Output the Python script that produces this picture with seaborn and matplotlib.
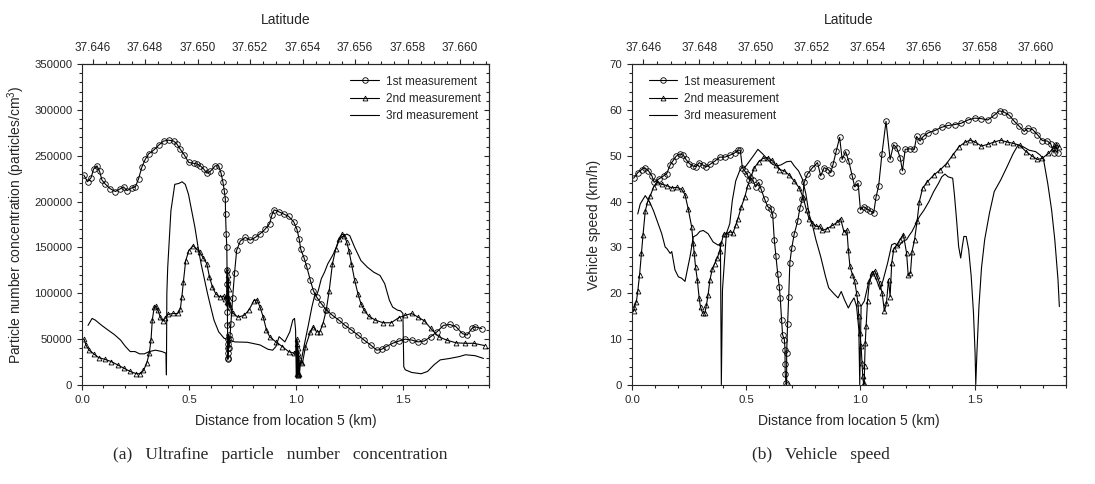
import matplotlib
matplotlib.use("Agg")
import matplotlib.pyplot as plt
import seaborn as sns
from matplotlib.ticker import MultipleLocator, FormatStrFormatter

# ---- (a) particle number concentration, distance in km ----
pn1_d = [0.008, 0.026, 0.042, 0.054, 0.07, 0.082, 0.093, 0.109, 0.132, 0.156, 0.179, 0.194, 0.21, 0.233,
         0.249, 0.264, 0.28, 0.295, 0.311, 0.334, 0.358, 0.381, 0.404, 0.428, 0.443, 0.459, 0.477, 0.498,
         0.521, 0.537, 0.552, 0.568, 0.583, 0.599, 0.622, 0.638, 0.649, 0.658, 0.664, 0.669, 0.67, 0.673,
         0.676, 0.677, 0.678, 0.678, 0.679, 0.679, 0.68, 0.68, 0.681, 0.681, 0.682, 0.683, 0.684, 0.686,
         0.69, 0.695, 0.703, 0.712, 0.722, 0.739, 0.762, 0.785, 0.809, 0.832, 0.855, 0.876, 0.886, 0.897,
         0.918, 0.941, 0.964, 0.988, 1.003, 1.014, 1.021, 1.036, 1.048, 1.066, 1.08, 1.095, 1.117, 1.14,
         1.169, 1.199, 1.228, 1.258, 1.288, 1.317, 1.347, 1.376, 1.399, 1.42, 1.45, 1.48, 1.509, 1.539,
         1.569, 1.598, 1.628, 1.657, 1.687, 1.717, 1.746, 1.776, 1.798, 1.82, 1.835, 1.866]
pn1 = [229000, 221700, 226000, 235500, 239000, 233000, 223500, 219000, 214000, 211000, 214000, 216000,
       212000, 215000, 216000, 225000, 238000, 246000, 252000, 256000, 261600, 266000, 267000, 266000,
       262700, 257000, 251000, 242700, 241700, 241000, 239000, 235500, 231000, 233000, 239000, 239000,
       231000, 221000, 212000, 203000, 186500, 165000, 150000, 125000, 110000, 95000, 80000, 65000, 50000,
       40000, 30000, 28000, 45000, 35000, 55000, 40000, 50000, 67000, 95000, 122000, 147000, 157000, 161000,
       158000, 161000, 165000, 170000, 176000, 185000, 191000, 189000, 186500, 184000, 178000, 170000,
       159000, 148000, 139000, 130000, 114000, 103000, 96000, 88800, 82000, 76000, 70800, 65000, 60000,
       54500, 49000, 43700, 38000, 39000, 41900, 45500, 48000, 50000, 49000, 47000, 48000, 52700, 58000,
       65000, 66000, 63500, 56000, 54500, 61700, 63500, 61500]

pn2_d = [0.01, 0.018, 0.033, 0.055, 0.077, 0.107, 0.136, 0.166, 0.195, 0.225, 0.254, 0.272, 0.287, 0.302,
         0.314, 0.322, 0.328, 0.337, 0.346, 0.355, 0.365, 0.376, 0.388, 0.402, 0.425, 0.447, 0.459, 0.466,
         0.473, 0.484, 0.499, 0.518, 0.536, 0.55, 0.565, 0.583, 0.595, 0.609, 0.624, 0.642, 0.661, 0.669,
         0.676, 0.678, 0.679, 0.68, 0.681, 0.682, 0.683, 0.684, 0.686, 0.691, 0.706, 0.728, 0.757, 0.78,
         0.802, 0.817, 0.831, 0.846, 0.861, 0.876, 0.905, 0.935, 0.964, 0.991, 1.0, 1.003, 1.004, 1.005,
         1.006, 1.007, 1.008, 1.009, 1.01, 1.012, 1.015, 1.02, 1.029, 1.043, 1.066, 1.08, 1.095, 1.11,
         1.125, 1.14, 1.154, 1.169, 1.184, 1.199, 1.214, 1.225, 1.236, 1.246, 1.258, 1.273, 1.288, 1.302,
         1.317, 1.339, 1.369, 1.406, 1.443, 1.48, 1.509, 1.539, 1.569, 1.598, 1.628, 1.665, 1.702, 1.746,
         1.79, 1.828, 1.88]
pn2 = [49800, 43700, 38000, 34000, 30000, 28000, 25600, 22000, 18400, 14800, 12300, 12300, 15900, 23800,
       34700, 49000, 70800, 85000, 86000, 81600, 74000, 70000, 72600, 77000, 78000, 78000, 83000, 96000,
       112000, 135700, 146600, 152000, 148000, 144800, 139000, 132000, 117700, 106900, 99600, 96000, 97000,
       94000, 97000, 125000, 90000, 120000, 92000, 115000, 89000, 105000, 88000, 85000, 78000, 74000, 76000,
       82000, 92000, 93000, 85000, 74000, 60000, 52700, 47000, 42000, 36500, 34700, 36000, 50000, 12000,
       45000, 11000, 40000, 13000, 35000, 11000, 30000, 12000, 25000, 23800, 41900, 58000, 63500, 58000,
       58000, 67000, 81600, 103000, 132000, 148000, 159000, 164600, 162800, 155600, 146600, 132000, 114000,
       99600, 88800, 81600, 75000, 70800, 67900, 67900, 73600, 76000, 78000, 74000, 70000, 61700, 52700,
       49000, 46000, 45500, 45500, 43000]

pn3_d = [0.028, 0.047, 0.062, 0.092, 0.121, 0.151, 0.18, 0.203, 0.225, 0.247, 0.269, 0.291, 0.314, 0.343,
         0.373, 0.392, 0.394, 0.396, 0.4, 0.415, 0.433, 0.452, 0.467, 0.482, 0.497, 0.512, 0.527, 0.542,
         0.556, 0.571, 0.586, 0.601, 0.616, 0.638, 0.663, 0.713, 0.772, 0.831, 0.868, 0.89, 0.905, 0.92,
         0.947, 0.97, 0.984, 0.992, 0.997, 1.0, 1.021, 1.036, 1.058, 1.073, 1.088, 1.095, 1.103, 1.117,
         1.132, 1.147, 1.169, 1.184, 1.202, 1.214, 1.236, 1.25, 1.273, 1.302, 1.332, 1.362, 1.391, 1.413,
         1.435, 1.45, 1.473, 1.487, 1.498, 1.502, 1.509, 1.539, 1.583, 1.613, 1.643, 1.672, 1.717, 1.761,
         1.79, 1.835, 1.874]
pn3 = [65000, 72600, 70800, 65000, 60000, 55000, 49000, 41900, 36500, 36500, 34000, 34000, 36500, 38000,
       36500, 34700, 11000, 100000, 128000, 190000, 218800, 219800, 221600, 218800, 208000, 190000, 172000,
       150000, 132000, 115900, 99600, 85000, 70800, 58000, 51000, 47000, 46600, 43700, 39000, 38000, 41900,
       52700, 47000, 58000, 70800, 72600, 60000, 11000, 23800, 41900, 67000, 85000, 99600, 97800, 103000,
       115900, 123000, 132000, 141000, 148000, 159000, 161700, 164600, 162800, 150000, 135700, 128500,
       123000, 119500, 110500, 92400, 85000, 81600, 80900, 78000, 20000, 16600, 13700, 12300, 14800, 22000,
       27400, 29000, 31000, 33000, 32000, 29000]

# ---- (b) vehicle speed ----
sp1_d = [0.007, 0.025, 0.043, 0.055, 0.072, 0.087, 0.097, 0.116, 0.138, 0.152, 0.167, 0.178, 0.193, 0.21,
         0.225, 0.236, 0.251, 0.265, 0.28, 0.294, 0.309, 0.326, 0.341, 0.362, 0.384, 0.406, 0.428, 0.449,
         0.464, 0.474, 0.483, 0.493, 0.504, 0.514, 0.529, 0.541, 0.555, 0.565, 0.58, 0.594, 0.609, 0.616,
         0.623, 0.63, 0.638, 0.645, 0.649, 0.655, 0.659, 0.667, 0.67, 0.67, 0.671, 0.674, 0.677, 0.677,
         0.681, 0.686, 0.691, 0.699, 0.71, 0.725, 0.735, 0.746, 0.754, 0.768, 0.79, 0.812, 0.826, 0.841,
         0.859, 0.87, 0.88, 0.894, 0.909, 0.92, 0.935, 0.949, 0.964, 0.975, 0.99, 1.0, 1.014, 1.029, 1.043,
         1.058, 1.068, 1.08, 1.094, 1.112, 1.13, 1.145, 1.159, 1.174, 1.184, 1.196, 1.217, 1.236, 1.246,
         1.261, 1.275, 1.297, 1.326, 1.355, 1.384, 1.413, 1.442, 1.471, 1.5, 1.529, 1.558, 1.587, 1.609,
         1.63, 1.652, 1.674, 1.696, 1.717, 1.732, 1.754, 1.775, 1.797, 1.819, 1.833, 1.848, 1.855, 1.865]
sp1 = [45.1, 46.3, 47.0, 47.4, 46.7, 45.6, 44.2, 44.9, 45.6, 46.1, 48.0, 48.8, 49.9, 50.4, 50.1, 49.2, 48.3,
       47.8, 47.6, 48.5, 48.0, 47.6, 48.1, 48.8, 49.7, 49.7, 50.1, 50.6, 51.2, 51.2, 47.4, 46.7, 46.0, 44.7,
       44.7, 43.2, 44.2, 42.7, 40.6, 38.9, 38.4, 37.0, 31.6, 28.1, 24.2, 21.3, 18.9, 14.1, 11.0, 9.9, 7.7,
       4.5, 2.3, 0.5, 0.1, 6.9, 13.2, 19.3, 26.7, 29.8, 32.9, 35.7, 38.6, 40.6, 44.2, 46.0, 47.4, 48.5, 45.6,
       47.4, 47.0, 46.3, 48.1, 51.0, 54.0, 49.2, 50.9, 48.8, 45.6, 43.2, 44.0, 38.2, 38.9, 38.4, 38.0, 37.5,
       40.9, 43.5, 50.3, 57.5, 49.2, 52.4, 51.7, 49.6, 46.7, 51.4, 51.5, 51.4, 54.2, 53.2, 54.2, 55.0, 55.5,
       56.2, 56.6, 56.8, 57.1, 57.8, 58.2, 58.1, 57.8, 58.9, 59.8, 59.5, 58.8, 57.5, 56.4, 55.3, 56.0, 55.7,
       54.6, 53.3, 53.2, 52.6, 50.6, 52.4, 50.6]

sp2_d = [0.007, 0.01, 0.019, 0.025, 0.033, 0.041, 0.048, 0.058, 0.068, 0.08, 0.094, 0.109, 0.13, 0.152,
         0.174, 0.196, 0.217, 0.232, 0.246, 0.261, 0.268, 0.272, 0.278, 0.286, 0.294, 0.3, 0.309, 0.319,
         0.326, 0.333, 0.341, 0.351, 0.362, 0.374, 0.384, 0.391, 0.401, 0.413, 0.428, 0.442, 0.454, 0.464,
         0.478, 0.493, 0.507, 0.522, 0.536, 0.555, 0.572, 0.594, 0.613, 0.63, 0.645, 0.667, 0.688, 0.71,
         0.732, 0.749, 0.764, 0.775, 0.79, 0.805, 0.822, 0.833, 0.855, 0.877, 0.899, 0.913, 0.928, 0.941,
         0.947, 0.954, 0.965, 0.975, 0.983, 0.989, 0.993, 0.997, 1.003, 1.007, 1.01, 1.014, 1.017, 1.018,
         1.021, 1.025, 1.031, 1.039, 1.049, 1.063, 1.073, 1.084, 1.095, 1.105, 1.114, 1.123, 1.13, 1.137,
         1.146, 1.16, 1.174, 1.188, 1.202, 1.209, 1.219, 1.226, 1.237, 1.248, 1.258, 1.272, 1.293, 1.321,
         1.349, 1.377, 1.404, 1.432, 1.46, 1.481, 1.502, 1.53, 1.558, 1.586, 1.614, 1.642, 1.669, 1.697,
         1.725, 1.753, 1.774, 1.795, 1.823, 1.844, 1.858, 1.868]
sp2 = [16.1, 17.1, 18.2, 20.4, 24.0, 28.7, 32.7, 38.0, 39.9, 41.3, 43.1, 44.2, 43.8, 43.5, 43.0, 43.1, 42.7,
       41.5, 38.4, 34.5, 30.9, 28.7, 25.8, 22.9, 18.9, 17.0, 15.7, 15.7, 17.5, 19.7, 22.9, 25.2, 26.5, 27.8,
       29.3, 30.9, 32.9, 33.0, 33.4, 33.2, 34.8, 36.3, 38.8, 40.9, 43.5, 45.6, 47.4, 48.7, 49.4, 49.6, 49.0,
       48.0, 47.0, 46.7, 45.8, 44.5, 43.0, 40.9, 38.1, 36.3, 35.3, 34.6, 34.6, 33.7, 34.1, 34.8, 35.5, 36.3,
       33.4, 33.8, 29.5, 25.9, 24.1, 22.6, 20.1, 17.9, 15.0, 11.4, 8.5, 4.9, 2.0, 0.1, 0.5, 4.1, 9.2, 12.8,
       18.3, 22.6, 24.4, 24.9, 23.7, 22.2, 20.1, 16.1, 17.9, 23.0, 19.3, 26.6, 29.6, 30.6, 31.7, 32.8, 28.8,
       24.1, 24.4, 29.1, 31.7, 35.7, 40.0, 42.9, 44.3, 45.8, 46.9, 48.3, 50.1, 52.0, 53.0, 53.4, 53.0, 52.1,
       52.5, 53.0, 53.4, 53.0, 52.7, 52.3, 50.9, 49.9, 49.2, 49.4, 50.5, 51.6, 52.3, 52.0]

sp3_d = [0.025, 0.036, 0.058, 0.077, 0.094, 0.112, 0.13, 0.145, 0.152, 0.167, 0.174, 0.188, 0.203, 0.217,
         0.232, 0.242, 0.254, 0.268, 0.283, 0.297, 0.312, 0.333, 0.355, 0.377, 0.387, 0.391, 0.396, 0.406,
         0.413, 0.428, 0.439, 0.454, 0.471, 0.483, 0.493, 0.514, 0.536, 0.551, 0.572, 0.594, 0.616, 0.635,
         0.652, 0.677, 0.696, 0.71, 0.729, 0.746, 0.761, 0.775, 0.791, 0.805, 0.826, 0.847, 0.861, 0.875,
         0.888, 0.902, 0.916, 0.93, 0.947, 0.958, 0.972, 0.983, 0.993, 0.997, 1.003, 1.017, 1.035, 1.056,
         1.07, 1.086, 1.1, 1.119, 1.137, 1.151, 1.167, 1.184, 1.202, 1.216, 1.226, 1.244, 1.258, 1.279, 1.3,
         1.321, 1.342, 1.356, 1.37, 1.384, 1.404, 1.411, 1.421, 1.43, 1.439, 1.446, 1.453, 1.463, 1.474,
         1.485, 1.495, 1.502, 1.505, 1.51, 1.519, 1.53, 1.544, 1.565, 1.586, 1.614, 1.642, 1.669, 1.69,
         1.711, 1.739, 1.767, 1.788, 1.802, 1.82, 1.837, 1.851, 1.865, 1.871]
sp3 = [37.3, 39.5, 41.3, 39.9, 38.0, 35.5, 33.0, 30.1, 29.8, 28.7, 29.1, 25.1, 23.6, 23.3, 22.6, 25.1, 28.0,
       32.3, 32.7, 33.5, 33.7, 33.0, 31.2, 30.5, 30.9, 0.1, 20.8, 28.0, 33.0, 35.2, 40.2, 44.5, 46.7, 47.6,
       47.4, 48.8, 50.3, 51.4, 50.4, 49.2, 48.1, 47.8, 48.0, 48.7, 48.8, 47.8, 46.7, 44.9, 41.7, 37.3, 34.6,
       31.7, 28.0, 23.7, 21.2, 20.4, 19.7, 19.0, 20.4, 18.6, 16.8, 17.9, 19.0, 17.2, 12.1, 0.1, 17.2, 18.3,
       22.2, 24.4, 23.0, 20.8, 23.0, 26.6, 30.6, 30.9, 30.2, 31.3, 31.7, 32.8, 33.5, 35.3, 36.7, 38.2, 40.0,
       42.2, 44.0, 45.4, 46.0, 45.4, 45.1, 41.8, 36.0, 30.2, 27.7, 30.2, 32.4, 32.4, 29.5, 23.7, 15.7, 7.0,
       0.1, 7.0, 17.2, 25.5, 31.7, 37.5, 42.2, 44.7, 47.6, 50.5, 52.3, 52.0, 51.2, 50.9, 50.1, 49.1, 44.0,
       38.2, 31.7, 23.0, 17.1]

labels = ["1st measurement", "2nd measurement", "3rd measurement"]
lat_ticks = [37.646, 37.648, 37.650, 37.652, 37.654, 37.656, 37.658, 37.660]

sns.set_style("ticks")
plt.rcParams["font.family"] = ["Liberation Sans", "DejaVu Sans"]
plt.rcParams["mathtext.default"] = "regular"

LAT0, LAT_PER_KM = 37.6456, 0.0155 / 1.9


def d2lat(d):
    return LAT0 + d * LAT_PER_KM


def lat2d(lat):
    return (lat - LAT0) / LAT_PER_KM


fig = plt.figure(figsize=(10.95, 4.84), dpi=100)
ax_a = fig.add_axes([0.0749, 0.2045, 0.3717, 0.6632])
ax_b = fig.add_axes([0.5772, 0.2045, 0.3963, 0.6632])

line_kw = dict(color="black", linewidth=0.8, estimator=None, sort=False)
circ = dict(marker="o", markersize=4, markerfacecolor="none", markeredgecolor="black", markeredgewidth=0.6)
tri = dict(marker="^", markersize=3.5, markerfacecolor="none", markeredgecolor="black", markeredgewidth=0.6)


def draw(ax, xs, ys):
    sns.lineplot(x=xs[0], y=ys[0], ax=ax, label=labels[0], **line_kw, **circ)
    sns.lineplot(x=xs[1], y=ys[1], ax=ax, label=labels[1], **line_kw, **tri)
    sns.lineplot(x=xs[2], y=ys[2], ax=ax, label=labels[2], **line_kw)


draw(ax_a, [pn1_d, pn2_d, pn3_d], [pn1, pn2, pn3])
draw(ax_b, [sp1_d, sp2_d, sp3_d], [sp1, sp2, sp3])

ax_a.set_ylim(0, 350000)
ax_a.yaxis.set_major_locator(MultipleLocator(50000))
ax_a.yaxis.set_minor_locator(MultipleLocator(10000))
ax_a.set_ylabel("Particle number concentration (particles/cm$^3$)", fontsize=10, labelpad=5)
ax_b.set_ylim(0, 70)
ax_b.yaxis.set_major_locator(MultipleLocator(10))
ax_b.yaxis.set_minor_locator(MultipleLocator(2))
ax_b.set_ylabel("Vehicle speed (km/h)", fontsize=10, labelpad=6)

for ax, loc, anchor in [(ax_a, "upper right", (1.0, 0.99)), (ax_b, "upper left", (0.02, 0.99))]:
    ax.set_xlim(0, 1.9)
    ax.xaxis.set_major_locator(MultipleLocator(0.5))
    ax.xaxis.set_minor_locator(MultipleLocator(0.1))
    ax.xaxis.set_major_formatter(FormatStrFormatter("%.1f"))
    ax.set_xlabel("Distance from location 5 (km)", fontsize=10, labelpad=7)
    ax.tick_params(which="both", direction="out", top=False, right=False, labelsize=8.2, width=0.8)
    ax.tick_params(which="major", length=3.5)
    ax.tick_params(which="minor", length=2)
    for s in ax.spines.values():
        s.set_linewidth(0.8)

    top = ax.secondary_xaxis("top", functions=(d2lat, lat2d))
    top.set_xticks(lat_ticks)
    top.xaxis.set_minor_locator(MultipleLocator(0.0005))
    top.xaxis.set_major_formatter(FormatStrFormatter("%.3f"))
    top.tick_params(which="both", direction="out", labelsize=8.5, width=0.8)
    top.tick_params(which="major", length=3.5)
    top.tick_params(which="minor", length=2)
    top.set_xlabel("Latitude", fontsize=10, labelpad=13)

    rgt = ax.secondary_yaxis("right")
    rgt.yaxis.set_major_locator(ax.yaxis.get_major_locator())
    rgt.yaxis.set_minor_locator(ax.yaxis.get_minor_locator())
    rgt.tick_params(which="both", direction="in", labelright=False, width=0.8)
    rgt.tick_params(which="major", length=3.5)
    rgt.tick_params(which="minor", length=2)

    ax.legend(loc=loc, bbox_to_anchor=anchor, frameon=False, fontsize=8.5, handlelength=2.4,
              handletextpad=0.6, labelspacing=0.45, borderaxespad=0.3)

fig.text(0.256, 0.06, "(a)   Ultrafine   particle   number   concentration", family="Liberation Serif",
         fontsize=12.5, ha="center", va="center")
fig.text(0.75, 0.06, "(b)   Vehicle   speed", family="Liberation Serif", fontsize=12.5,
         ha="center", va="center")

fig.savefig("out.png", dpi=100)
